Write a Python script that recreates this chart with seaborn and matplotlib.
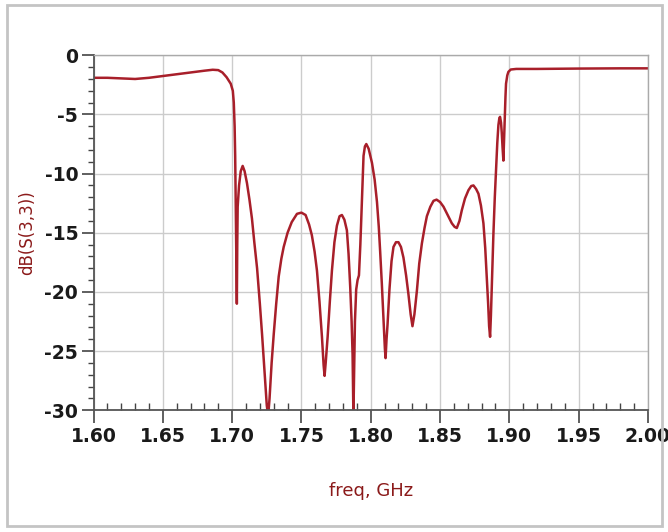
import matplotlib
matplotlib.use("Agg")
import matplotlib.pyplot as plt
import seaborn as sns
import numpy as np
from matplotlib.patches import Rectangle
from matplotlib.ticker import MultipleLocator

sns.set_style("white")
plt.rcParams['font.family'] = ['DejaVu Sans']

# ----- data (freq in GHz, dB(S(3,3))) -----
freq = [
    1.600, 1.610, 1.620, 1.630, 1.640, 1.650, 1.660, 1.670, 1.680, 1.686,
    1.690, 1.693, 1.696, 1.699, 1.7005, 1.7012, 1.7018, 1.7022, 1.7026, 1.7030,
    1.7034, 1.7037, 1.7040, 1.7050, 1.7062, 1.7076, 1.7090, 1.7107, 1.7125, 1.7143,
    1.7160, 1.7180, 1.7200, 1.7216, 1.7235, 1.7250, 1.7260, 1.7270, 1.7285, 1.7300,
    1.7318, 1.7336, 1.7355, 1.7372, 1.7400, 1.7430, 1.7468, 1.7500, 1.7530, 1.7555,
    1.7575, 1.7595, 1.7612, 1.7630, 1.7648, 1.7660, 1.7667, 1.7675, 1.7689, 1.7705,
    1.7720, 1.7738, 1.7756, 1.7775, 1.7792, 1.7810, 1.7828, 1.7840, 1.7852, 1.7862,
    1.7869, 1.7875, 1.7880, 1.7886, 1.7895, 1.7905, 1.7915, 1.7925, 1.7936, 1.7948,
    1.7958, 1.7968, 1.7985, 1.8009, 1.8028, 1.8045, 1.8058, 1.8068, 1.8080, 1.8092,
    1.8102, 1.8107, 1.8114, 1.8121, 1.8135, 1.8150, 1.8164, 1.8182, 1.8200, 1.8218,
    1.8236, 1.8255, 1.8272, 1.8288, 1.8301, 1.8315, 1.8333, 1.8350, 1.8369, 1.8388,
    1.8405, 1.8430, 1.8453, 1.8475, 1.8500, 1.8525, 1.8555, 1.8585, 1.8605, 1.8621,
    1.8640, 1.8657, 1.8680, 1.8705, 1.8725, 1.8741, 1.8760, 1.8777, 1.8795, 1.8813,
    1.8826, 1.8837, 1.8847, 1.8854, 1.8861, 1.8867, 1.8873, 1.8880, 1.8885, 1.8895,
    1.8905, 1.8913, 1.8921, 1.8928, 1.8933, 1.8940, 1.8945, 1.8951, 1.8957, 1.8962,
    1.8967, 1.8972, 1.8976, 1.8985, 1.8993, 1.9010, 1.9050, 1.9200, 1.9500, 1.9800,
    2.0000,
]
s33_db = [
    -1.90, -1.90, -1.95, -2.00, -1.90, -1.75, -1.60, -1.45, -1.30, -1.22,
    -1.25, -1.45, -1.85, -2.40, -3.0, -4.0, -6.0, -8.5, -12.5, -16.0,
    -21.0, -16.0, -12.8, -11.0, -9.8, -9.35, -9.8, -10.8, -12.2, -13.8,
    -15.8, -18.0, -21.0, -23.6, -27.0, -29.6, -30.5, -29.0, -26.0, -23.6,
    -21.0, -18.7, -17.2, -16.2, -15.0, -14.1, -13.4, -13.3, -13.5, -14.3,
    -15.2, -16.6, -18.2, -20.8, -23.8, -26.2, -27.1, -26.0, -23.8, -20.8,
    -18.2, -15.8, -14.4, -13.6, -13.5, -13.9, -14.8, -16.8, -19.6, -22.5,
    -25.3, -30.5, -27.0, -22.5, -19.8, -19.0, -18.6, -16.0, -12.4, -8.5,
    -7.7, -7.5, -7.9, -9.1, -10.5, -12.4, -14.5, -16.6, -19.3, -22.3,
    -24.8, -25.6, -24.0, -22.8, -19.8, -17.4, -16.2, -15.8, -15.8, -16.2,
    -17.1, -18.6, -20.2, -21.9, -22.9, -21.9, -19.9, -17.6, -15.9, -14.6,
    -13.6, -12.8, -12.3, -12.2, -12.4, -12.8, -13.5, -14.2, -14.5, -14.6,
    -14.0, -13.1, -12.1, -11.4, -11.05, -11.0, -11.3, -11.7, -12.7, -14.2,
    -16.3, -18.7, -21.0, -22.9, -23.8, -22.0, -19.6, -17.0, -15.1, -12.0,
    -9.4, -7.4, -5.9, -5.3, -5.2, -5.7, -6.5, -7.8, -8.9, -7.0,
    -5.0, -3.5, -2.4, -1.7, -1.4, -1.2, -1.15, -1.15, -1.12, -1.10,
    -1.10,
]
x_ticks = [1.60, 1.65, 1.70, 1.75, 1.80, 1.85, 1.90, 1.95, 2.00]
y_ticks = [0, -5, -10, -15, -20, -25, -30]

fig = plt.figure(figsize=(6.68, 5.32), dpi=100)
ax = fig.add_axes([0.140, 0.229, 0.830, 0.667])

ax.grid(True, which='major', color='#cccccc', linewidth=1.0)
sns.lineplot(x=freq, y=s33_db, ax=ax, color='#a81f2a', linewidth=1.8, sort=False)

ax.set_xlim(1.60, 2.00)
ax.set_ylim(-30, 0)
ax.set_xticks(x_ticks)
ax.set_xticklabels([f"{t:.2f}" for t in x_ticks])
ax.set_yticks(y_ticks)
ax.set_yticklabels([f"{t}" for t in y_ticks])
ax.xaxis.set_minor_locator(MultipleLocator(0.01))
ax.yaxis.set_minor_locator(MultipleLocator(1))

ax.tick_params(axis='x', which='both', bottom=True)
ax.tick_params(axis='y', which='both', left=True)
ax.tick_params(axis='x', which='major', direction='out', length=9, width=1.2,
               color='#444444', labelsize=13.5, labelcolor='#1a1a1a', pad=3)
ax.tick_params(axis='x', which='minor', direction='in', length=5, width=1.0,
               color='#444444')
ax.tick_params(axis='y', which='major', direction='out', length=9, width=1.2,
               color='#444444', labelsize=13.5, labelcolor='#1a1a1a', pad=2)
ax.tick_params(axis='y', which='minor', direction='out', length=4.5, width=1.0,
               color='#444444')
for lbl in ax.get_xticklabels() + ax.get_yticklabels():
    lbl.set_fontweight('bold')

for side in ['left', 'bottom']:
    ax.spines[side].set_color('#555555')
    ax.spines[side].set_linewidth(1.3)
for side in ['top', 'right']:
    ax.spines[side].set_color('#aaaaaa')
    ax.spines[side].set_linewidth(1.0)

ax.set_xlabel('freq, GHz', fontsize=13, color='#8b1a1a', labelpad=26)
ax.set_ylabel('dB(S(3,3))', fontsize=12, color='#8b1a1a', labelpad=6)

# outer frame around the whole figure
fig.patches.append(Rectangle((0.011, 0.011), 0.980, 0.979, transform=fig.transFigure,
                             fill=False, edgecolor='#c4c4c4', linewidth=2.0))

fig.savefig('out.png', dpi=100)
